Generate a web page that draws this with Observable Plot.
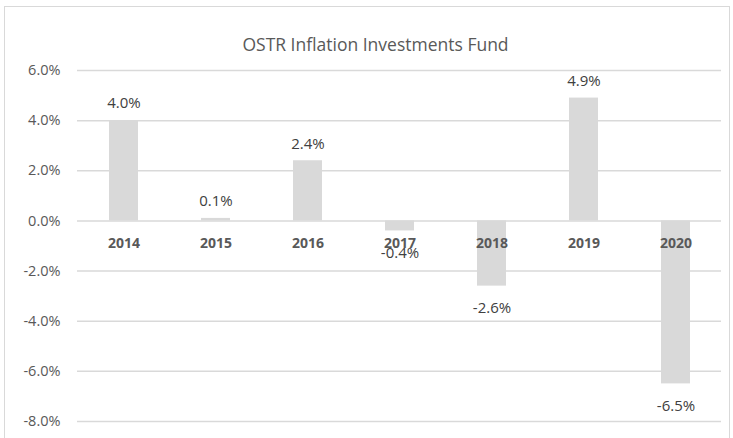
<!DOCTYPE html>
<html>
<head>
<meta charset="utf-8">
<script src="https://cdn.jsdelivr.net/npm/d3@7"></script>
<script src="https://cdn.jsdelivr.net/npm/@observablehq/plot@0.6"></script>
<style>
  html, body { margin: 0; padding: 0; background: #fff; }
  #wrap { position: relative; width: 733px; height: 438px; overflow: hidden; }
  #frame { position: absolute; left: 4px; top: 6px; width: 726px; height: 440px; border: 1px solid #d9d9d9; box-sizing: border-box; pointer-events: none; }
  svg { font-family: "Open Sans", "Liberation Sans", sans-serif; }
</style>
</head>
<body>
<div id="wrap"><div id="frame"></div></div>
<script>
const title = "OSTR Inflation Investments Fund";
const years = ["2014", "2015", "2016", "2017", "2018", "2019", "2020"];
const returns = [4.0, 0.1, 2.4, -0.4, -2.6, 4.9, -6.5];
const yTicks = [-8, -6, -4, -2, 0, 2, 4, 6];

const data = years.map((y, i) => ({year: y, value: returns[i]}));
const fmt = v => v.toFixed(1) + "%";

const chart = Plot.plot({
  width: 733,
  height: 438,
  marginLeft: 77,
  marginRight: 12,
  marginTop: 70,
  marginBottom: 17,
  style: {background: "transparent", fontSize: "14px", fontFamily: "'Open Sans', sans-serif"},
  x: {domain: years, paddingInner: 0.685, paddingOuter: 0.3425, axis: null},
  y: {domain: [-8, 6], ticks: yTicks, tickFormat: fmt, label: null},
  marks: [
    Plot.gridY(yTicks, {stroke: "#d9d9d9", strokeOpacity: 1, strokeWidth: 1.5}),
    Plot.axisY(yTicks, {tickFormat: fmt, tickSize: 0, tickPadding: 17, fill: "#595959", fontSize: 14.5, label: null}),
    Plot.barY(data, {x: "year", y: "value", fill: "#d9d9d9"}),
    Plot.text(data, {x: "year", y: 0, text: "year", dy: 23, fill: "#595959", fontWeight: "bold", fontSize: 14}),
    Plot.text(data.filter(d => d.value >= 0), {x: "year", y: "value", text: d => fmt(d.value), dy: -17, fill: "#404040", fontSize: 15}),
    Plot.text(data.filter(d => d.value < 0), {x: "year", y: "value", text: d => fmt(d.value), dy: 22, fill: "#404040", fontSize: 15}),
    Plot.text([title], {frameAnchor: "top", text: d => d, dy: -32, dx: -24, fill: "#595959", fontSize: 17.5})
  ]
});
document.getElementById("wrap").prepend(chart);
</script>
</body>
</html>
